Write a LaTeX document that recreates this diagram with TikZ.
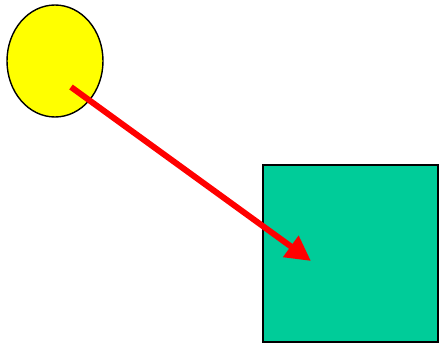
\documentclass[tikz,border=0pt]{standalone}
\usepackage{xcolor}
\usepackage{tikz}
\usetikzlibrary{shapes.geometric,arrows.meta}
\definecolor{ballfill}{HTML}{FFFF00}
\definecolor{boxfill}{HTML}{00CC99}
\definecolor{pointer}{HTML}{FF0000}
\tikzset{
  ball/.style={
    ellipse, draw=black, line width=1.4pt, fill=ballfill,
    minimum width=96pt, minimum height=112pt, inner sep=0pt},
  target/.style={
    rectangle, draw=black, line width=1.4pt, fill=boxfill,
    minimum width=175pt, minimum height=177pt, inner sep=0pt},
  move/.style={draw=pointer, line width=6pt,
    -{Triangle[length=25pt, width=25pt]}},
}
\begin{document}
\begin{tikzpicture}[x=1pt, y=-1pt]
  \useasboundingbox (0,0) rectangle (439,343);

  \node[ball] (sun) at (55,61) {};
  \node[target] (square) at (350.5,253.5) {};

  \coordinate (start) at (71,87);
  \coordinate (end) at (311,261);

  \draw[move] (start) -- (end);

\end{tikzpicture}
\end{document}
